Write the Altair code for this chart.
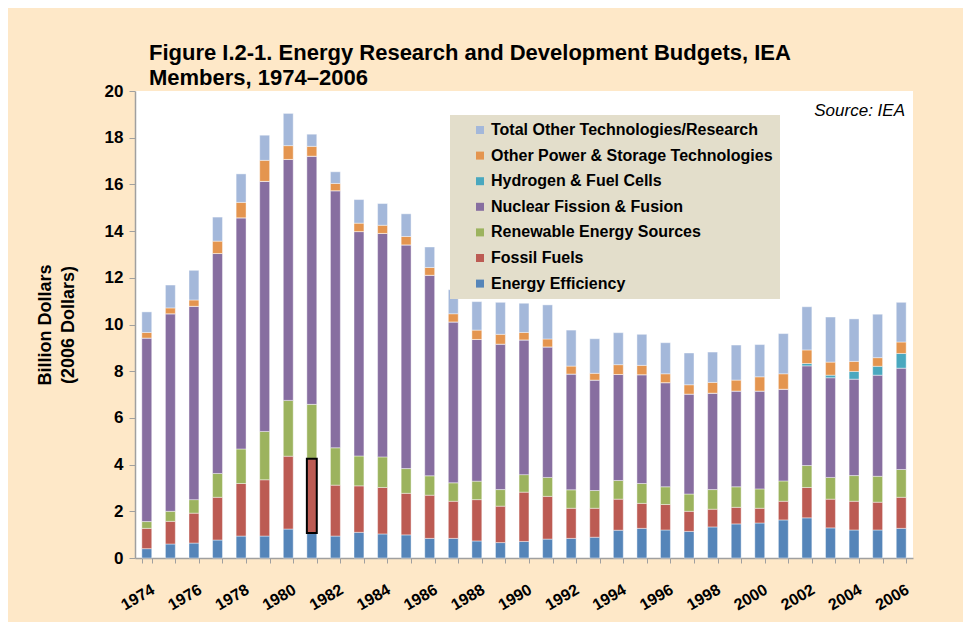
import altair as alt
import pandas as pd

years = list(range(1974, 2007))

series_names = [
    "Energy Efficiency",
    "Fossil Fuels",
    "Renewable Energy Sources",
    "Nuclear Fission & Fusion",
    "Hydrogen & Fuel Cells",
    "Other Power & Storage Technologies",
    "Total Other Technologies/Research",
]

energy_efficiency = [0.40, 0.60, 0.64, 0.77, 0.94, 0.94, 1.24, 1.07, 0.94, 1.10, 1.03, 0.99, 0.84, 0.84, 0.73, 0.66, 0.71,
                     0.81, 0.84, 0.89, 1.19, 1.27, 1.20, 1.14, 1.33, 1.46, 1.50, 1.63, 1.72, 1.29, 1.20, 1.20, 1.27]
fossil_fuels = [0.87, 0.97, 1.28, 1.83, 2.25, 2.41, 3.12, 3.18, 2.18, 1.99, 1.99, 1.78, 1.85, 1.59, 1.77, 1.56, 2.11,
                1.83, 1.29, 1.24, 1.33, 1.07, 1.09, 0.86, 0.76, 0.71, 0.63, 0.80, 1.30, 1.23, 1.23, 1.19, 1.33]
renewables = [0.29, 0.43, 0.58, 1.02, 1.48, 2.07, 2.39, 2.33, 1.60, 1.28, 1.31, 1.06, 0.83, 0.79, 0.79, 0.71, 0.75,
              0.81, 0.79, 0.76, 0.80, 0.85, 0.76, 0.74, 0.84, 0.88, 0.83, 0.87, 0.94, 0.93, 1.10, 1.11, 1.19]
nuclear = [7.86, 8.46, 8.28, 9.42, 9.90, 10.71, 10.32, 10.63, 11.01, 9.61, 9.57, 9.58, 8.59, 6.89, 6.07, 6.23, 5.77,
           5.59, 4.96, 4.73, 4.54, 4.66, 4.46, 4.28, 4.13, 4.10, 4.19, 3.93, 4.27, 4.27, 4.13, 4.33, 4.34]
hydrogen = [0.0, 0.0, 0.0, 0.0, 0.0, 0.0, 0.0, 0.0, 0.0, 0.0, 0.0, 0.0, 0.0, 0.0, 0.0, 0.0, 0.0,
            0.0, 0.0, 0.0, 0.0, 0.0, 0.0, 0.0, 0.0, 0.0, 0.0, 0.0, 0.10, 0.11, 0.33, 0.38, 0.63]
other_power = [0.24, 0.25, 0.27, 0.53, 0.66, 0.90, 0.59, 0.42, 0.31, 0.36, 0.35, 0.36, 0.33, 0.35, 0.40, 0.42, 0.32,
               0.34, 0.34, 0.29, 0.42, 0.40, 0.38, 0.40, 0.46, 0.47, 0.61, 0.66, 0.58, 0.56, 0.43, 0.37, 0.49]
total_other = [0.88, 0.98, 1.27, 1.03, 1.22, 1.08, 1.38, 0.52, 0.50, 1.01, 0.93, 0.97, 0.88, 1.03, 1.22, 1.37, 1.25,
               1.46, 1.54, 1.48, 1.37, 1.33, 1.33, 1.36, 1.30, 1.50, 1.38, 1.72, 1.85, 1.93, 1.82, 1.86, 1.70]

series_values = [energy_efficiency, fossil_fuels, renewables, nuclear, hydrogen, other_power, total_other]
series_colors = ["#5585B9", "#BC5B53", "#9CB35E", "#876EA0", "#4AA8BF", "#E4954F", "#A4B8DA"]

highlight_year = 1981
highlight_series = "Fossil Fuels"

rows = []
for idx, (name, vals) in enumerate(zip(series_names, series_values)):
    for y, v in zip(years, vals):
        rows.append({"year": y, "series": name, "idx": idx, "value": v})
df = pd.DataFrame(rows)

FONT = "Liberation Sans"

legend_domain = series_names[::-1]
legend_range = series_colors[::-1]

base = alt.Chart(df).transform_stack(
    stack="value", groupby=["year"], as_=["v0", "v1"],
    sort=[alt.SortField("idx", order="ascending")]
)

x_enc = alt.X(
    "year:O",
    scale=alt.Scale(paddingInner=0.58, paddingOuter=0.29),
    axis=alt.Axis(
        title=None, labelAngle=-30, labelAlign="right", labelBaseline="middle",
        labelExpr="datum.value % 2 == 0 ? datum.label : ''",
        labelFont=FONT, labelFontSize=16, labelFontWeight="bold", labelColor="black",
        labelPadding=25, labelOffset=6, tickBand="extent", tickColor="#A0A0A0", tickSize=5,
        domainColor="#A0A0A0", domainWidth=1.5, labelOverlap=False,
    ),
)

y_enc = alt.Y(
    "v0:Q",
    scale=alt.Scale(domain=[0, 20], nice=False),
    axis=alt.Axis(
        values=list(range(0, 21, 2)), grid=False,
        title=["Billion Dollars", "(2006 Dollars)"],
        titleFont=FONT, titleFontSize=18, titleFontWeight="bold", titleColor="black",
        titlePadding=27, titleLineHeight=23,
        labelFont=FONT, labelFontSize=17, labelFontWeight="bold", labelColor="black",
        labelPadding=6, tickColor="#A0A0A0", tickSize=6,
        domainColor="#A0A0A0", domainWidth=1.5,
    ),
)

bars = base.mark_bar(stroke="#ffffff", strokeWidth=0.6, strokeOpacity=0.7).encode(
    x=x_enc,
    y=y_enc,
    y2="v1:Q",
    color=alt.Color(
        "series:N",
        scale=alt.Scale(domain=legend_domain, range=legend_range),
        legend=alt.Legend(
            title=None, orient="none", legendX=315, legendY=24,
            fillColor="#E3DECB", padding=7, symbolOffset=15,
            symbolType="square", symbolSize=64, symbolStrokeWidth=0,
            labelFont=FONT, labelFontSize=16, labelFontWeight="bold", labelColor="black",
            rowPadding=9.6, labelOffset=3, labelLimit=400,
        ),
    ),
)

highlight = base.transform_filter(
    (alt.datum.year == highlight_year) & (alt.datum.series == highlight_series)
).mark_bar(filled=False, stroke="black", strokeWidth=2).encode(
    x=alt.X("year:O"),
    y=alt.Y("v0:Q"),
    y2="v1:Q",
)

source = alt.Chart(pd.DataFrame({"t": ["Source: IEA"]})).mark_text(
    align="right", baseline="alphabetic", font=FONT, fontSize=17, fontStyle="italic", color="black"
).encode(x=alt.value(770), y=alt.value(25), text="t:N")

chart = alt.layer(bars, highlight, source).properties(
    width=778, height=467,
    autosize=alt.AutoSizeParams(type="none"),
    padding={"left": 127, "top": 83, "right": 50, "bottom": 64},
    background="#FEE8C8",
    title=alt.TitleParams(
        text=["Figure I.2-1. Energy Research and Development Budgets, IEA", "Members, 1974\u20132006"],
        anchor="start", frame="group", font=FONT, fontSize=22, fontWeight="bold",
        color="black", dx=14, offset=-8, lineHeight=25,
    ),
).configure_view(fill="white", stroke=None)

chart.save("out.html", embed_options={"renderer": "svg", "actions": False})
